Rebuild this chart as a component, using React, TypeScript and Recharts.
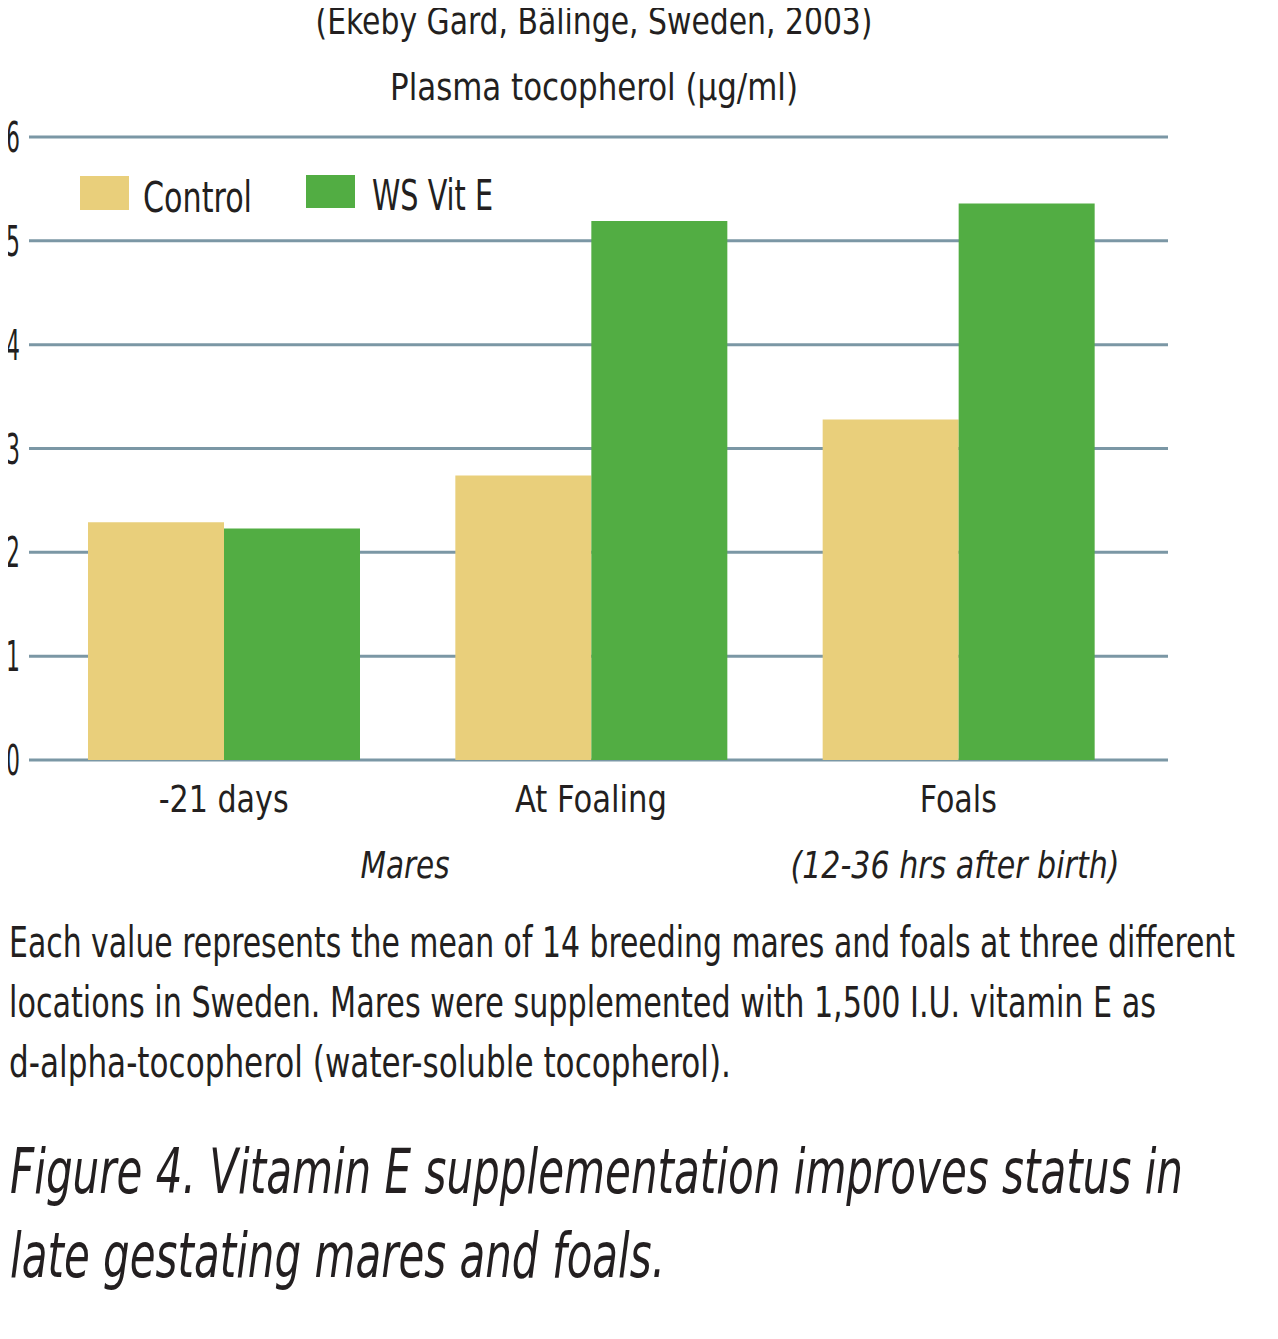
import React from "react";
import { BarChart, Bar, XAxis, YAxis, CartesianGrid } from "recharts";

const categories = ["-21 days", "At Foaling", "Foals"];
const controlValues = [2.29, 2.74, 3.28];
const wsVitEValues = [2.23, 5.19, 5.36];
const yTicks = [0, 1, 2, 3, 4, 5, 6];
const seriesNames = ["Control", "WS Vit E"];

const data = categories.map((c, i) => ({
  category: c,
  control: controlValues[i],
  wsVitE: wsVitEValues[i],
}));

const FONT = "'Liberation Sans Narrow', 'DejaVu Sans Condensed', 'Open Sans', sans-serif";
const TEXT = "#231f20";
const CONTROL = "#e9cf7b";
const GREEN = "#52ad43";
const GRID = "#7b97a5";

const xLabelWidths: Record<string, number> = {
  "-21 days": 130,
  "At Foaling": 152,
  Foals: 77,
};

const XTick = (props: any) => {
  const { x, y, payload } = props;
  return (
    <text
      x={x}
      y={y + 52}
      textAnchor="middle"
      fontFamily={FONT}
      fontSize={38}
      fill={TEXT}
      textLength={xLabelWidths[payload.value]}
      lengthAdjust="spacingAndGlyphs"
    >
      {payload.value}
    </text>
  );
};

const YTick = (props: any) => {
  const { x, y, payload } = props;
  return (
    <g transform={`translate(${x}, ${y + 15})`}>
      <text
        transform="scale(0.58, 1)"
        x={0}
        y={0}
        textAnchor="end"
        fontFamily={FONT}
        fontSize={42}
        fill={TEXT}
      >
        {payload.value}
      </text>
    </g>
  );
};

export default function App() {
  return (
    <div style={{ position: "relative", width: 1278, height: 1339, margin: -8, background: "#fff" }}>
      <BarChart
        width={1278}
        height={1339}
        data={data}
        margin={{ top: 137, right: 110, left: 0, bottom: 519 }}
        barCategoryGap={48}
        barGap={0}
      >
        <CartesianGrid vertical={false} stroke={GRID} strokeWidth={3} />
        <XAxis
          dataKey="category"
          axisLine={false}
          tickLine={false}
          tickSize={0}
          tickMargin={0}
          height={60}
          padding={{ left: 11, right: 26 }}
          tick={<XTick />}
          interval={0}
        />
        <YAxis
          domain={[0, 6]}
          ticks={yTicks}
          width={29}
          axisLine={false}
          tickLine={false}
          tickSize={0}
          tickMargin={9}
          tick={<YTick />}
          interval={0}
        />
        <Bar dataKey="control" name={seriesNames[0]} fill={CONTROL} isAnimationActive={false} />
        <Bar dataKey="wsVitE" name={seriesNames[1]} fill={GREEN} isAnimationActive={false} />
      </BarChart>
      <svg
        width={1278}
        height={1339}
        style={{ position: "absolute", left: 0, top: 0, pointerEvents: "none" }}
      >
        <g fontFamily={FONT} fill={TEXT}>
          <rect x={80} y={176} width={49} height={34} fill={CONTROL} />
          <text x={143} y={212} fontSize={43} textLength={109} lengthAdjust="spacingAndGlyphs">
            {seriesNames[0]}
          </text>
          <rect x={306} y={175} width={49} height={33} fill={GREEN} />
          <text x={372} y={210} fontSize={43} textLength={121} lengthAdjust="spacingAndGlyphs">
            {seriesNames[1]}
          </text>
          <text x={594} y={34} textAnchor="middle" fontSize={38} textLength={557} lengthAdjust="spacingAndGlyphs">
            (Ekeby Gard, Bälinge, Sweden, 2003)
          </text>
          <text x={594} y={100} textAnchor="middle" fontSize={38} textLength={408} lengthAdjust="spacingAndGlyphs">
            Plasma tocopherol (µg/ml)
          </text>
          <text x={405} y={878} textAnchor="middle" fontSize={38} fontStyle="italic" textLength={89} lengthAdjust="spacingAndGlyphs">
            Mares
          </text>
          <text x={955} y={878} textAnchor="middle" fontSize={38} fontStyle="italic" textLength={329} lengthAdjust="spacingAndGlyphs">
            (12-36 hrs after birth)
          </text>
          <text x={9} y={957} fontSize={42} textLength={1226} lengthAdjust="spacingAndGlyphs">
            Each value represents the mean of 14 breeding mares and foals at three different
          </text>
          <text x={9} y={1017} fontSize={42} textLength={1147} lengthAdjust="spacingAndGlyphs">
            locations in Sweden. Mares were supplemented with 1,500 I.U. vitamin E as
          </text>
          <text x={9} y={1077} fontSize={42} textLength={722} lengthAdjust="spacingAndGlyphs">
            d-alpha-tocopherol (water-soluble tocopherol).
          </text>
          <text x={10} y={1193} fontSize={62} fontStyle="italic" textLength={1173} lengthAdjust="spacingAndGlyphs">
            Figure 4. Vitamin E supplementation improves status in
          </text>
          <text x={10} y={1277} fontSize={62} fontStyle="italic" textLength={655} lengthAdjust="spacingAndGlyphs">
            late gestating mares and foals.
          </text>
        </g>
      </svg>
    </div>
  );
}
